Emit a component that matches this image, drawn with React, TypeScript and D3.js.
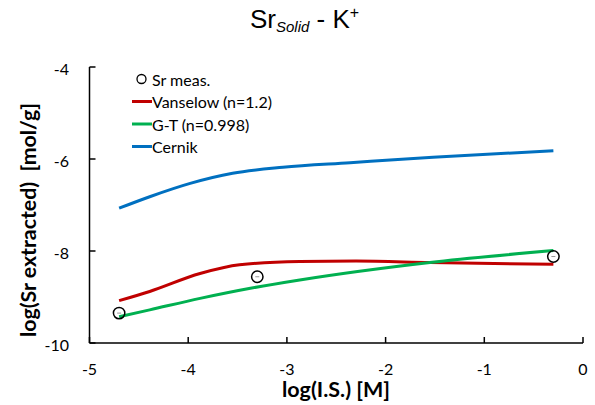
import React from "react";
import * as d3 from "d3";

const xTicks = [-5, -4, -3, -2, -1, 0];
const yTicks = [-10, -8, -6, -4];

const measX = [-4.7, -3.3, -0.3];
const measY = [-9.35, -8.56, -8.12];

const vanX = [-4.7, -4.39, -3.88, -3.48, -2.87, -2.3, -1.55, -0.3];
const vanY = [-9.08, -8.88, -8.49, -8.3, -8.23, -8.22, -8.25, -8.29];

const gtX = [-4.7, -4.39, -3.88, -3.37, -2.87, -1.55, -0.3];
const gtY = [-9.43, -9.28, -9.03, -8.81, -8.63, -8.25, -7.99];

const cerX = [-4.7, -4.39, -3.98, -3.55, -3.04, -2.36, -1.52, -0.3];
const cerY = [-7.07, -6.82, -6.53, -6.31, -6.18, -6.08, -5.96, -5.82];

const series = [
  { name: "Vanselow (n=1.2)", xs: vanX, ys: vanY, color: "#C00000" },
  { name: "G-T (n=0.998)", xs: gtX, ys: gtY, color: "#00B050" },
  { name: "Cernik", xs: cerX, ys: cerY, color: "#0070C0" },
];

const FONT = "Lato, 'Open Sans', sans-serif";

export default function App() {
  const x = d3.scaleLinear().domain([-5, 0]).range([89.5, 583]);
  const y = d3.scaleLinear().domain([-10, -4]).range([343, 67]);
  const line = d3
    .line<[number, number]>()
    .x((d) => x(d[0]))
    .y((d) => y(d[1]))
    .curve(d3.curveMonotoneX);

  const legendX = 132;
  const legendY0 = 79;
  const legendStep = 22.5;
  const x0 = x(-5);

  return (
    <svg
      width={595}
      height={405}
      style={{ position: "absolute", left: 0, top: 0, background: "#fff" }}
    >
      <rect x={0} y={0} width={595} height={405} fill="#fff" />
      {/* Title */}
      <text
        x={250}
        y={28}
        fontFamily="'Liberation Sans', Arial, sans-serif"
        fontSize={26}
        fill="#000"
      >
        Sr
        <tspan fontSize={15} fontStyle="italic" dy={4}>
          Solid
        </tspan>
        <tspan dy={-4}> - K</tspan>
        <tspan fontSize={16} dy={-10}>
          +
        </tspan>
      </text>

      {/* series lines */}
      {series.map((s) => (
        <path
          key={s.name}
          d={line(s.xs.map((v, i) => [v, s.ys[i]] as [number, number])) || ""}
          fill="none"
          stroke={s.color}
          strokeWidth={3}
          strokeLinecap="butt"
        />
      ))}

      {/* measured points */}
      {measX.map((v, i) => (
        <g key={i}>
          <line
            x1={x(v) - 2}
            x2={x(v) + 2}
            y1={y(measY[i])}
            y2={y(measY[i])}
            stroke="#999"
            strokeWidth={1}
          />
          <circle
            cx={x(v)}
            cy={y(measY[i])}
            r={5.7}
            fill="none"
            stroke="#000"
            strokeWidth={1.5}
          />
        </g>
      ))}

      {/* axes */}
      <line x1={x0} x2={x0} y1={y(-4)} y2={y(-10)} stroke="#000" strokeWidth={1.5} />
      <line x1={x0} x2={x(0)} y1={343} y2={343} stroke="#000" strokeWidth={1.5} />
      {yTicks.map((t) => (
        <g key={"y" + t}>
          <line x1={x0} x2={x0 + 6} y1={y(t)} y2={y(t)} stroke="#000" strokeWidth={1.5} />
          <text
            x={69}
            y={y(t) + 1}
            textAnchor="end"
            dominantBaseline="central"
            fontFamily={FONT}
            fontSize={16}
            fill="#000"
          >
            {t}
          </text>
        </g>
      ))}
      {xTicks.map((t) => (
        <g key={"x" + t}>
          <line x1={x(t)} x2={x(t)} y1={343} y2={337} stroke="#000" strokeWidth={1.5} />
          <text
            x={x(t)}
            y={368}
            textAnchor="middle"
            dominantBaseline="central"
            fontFamily={FONT}
            fontSize={16}
            fill="#000"
          >
            {t}
          </text>
        </g>
      ))}

      {/* axis titles */}
      <text
        x={336}
        y={397}
        textAnchor="middle"
        fontFamily={FONT}
        fontWeight="bold"
        fontSize={21}
        textLength={108}
        lengthAdjust="spacingAndGlyphs"
        fill="#000"
      >
        log(I.S.) [M]
      </text>
      <text
        transform="translate(36,220) rotate(-90)"
        textAnchor="middle"
        fontFamily={FONT}
        fontWeight="bold"
        fontSize={21}
        textLength={234}
        lengthAdjust="spacingAndGlyphs"
        fill="#000"
        style={{ whiteSpace: "pre" }}
      >
        {"log(Sr extracted)  [mol/g]"}
      </text>

      {/* legend */}
      <circle cx={141.5} cy={legendY0} r={4.5} fill="none" stroke="#000" strokeWidth={1.3} />
      <text
        x={152}
        y={legendY0}
        dominantBaseline="central"
        fontFamily={FONT}
        fontSize={16}
        fill="#000"
      >
        Sr meas.
      </text>
      {series.map((s, i) => {
        const ly = legendY0 + legendStep * (i + 1);
        return (
          <g key={"leg" + s.name}>
            <line
              x1={legendX}
              x2={legendX + 20}
              y1={ly}
              y2={ly}
              stroke={s.color}
              strokeWidth={3}
            />
            <text
              x={152}
              y={ly}
              dominantBaseline="central"
              fontFamily={FONT}
              fontSize={16}
              fill="#000"
            >
              {s.name}
            </text>
          </g>
        );
      })}
    </svg>
  );
}
